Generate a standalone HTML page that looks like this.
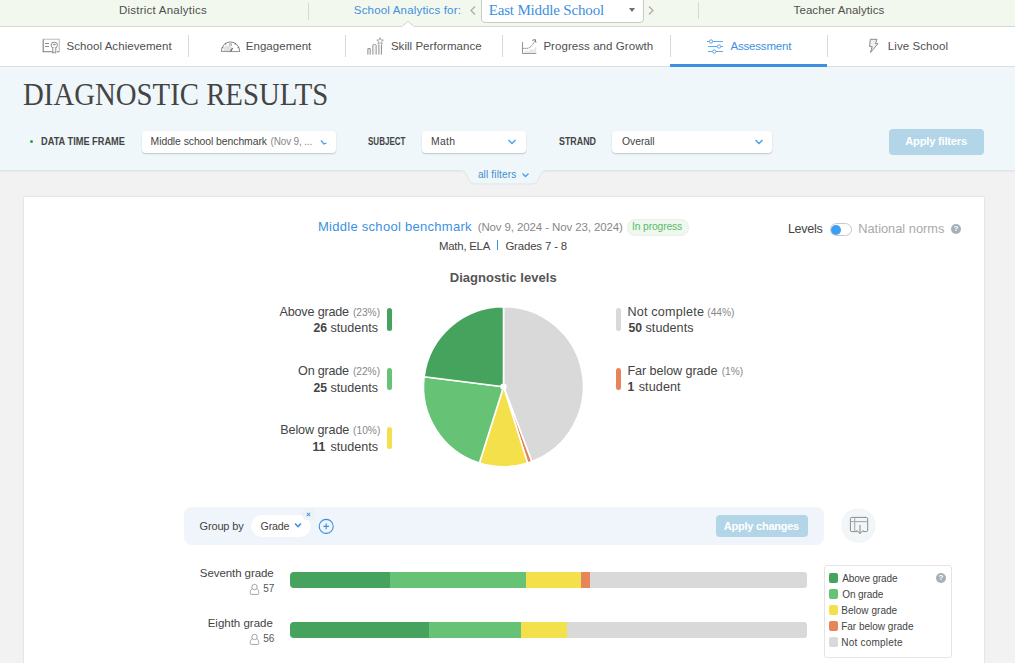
<!DOCTYPE html>
<html><head><meta charset="utf-8">
<style>
*{box-sizing:border-box;margin:0;padding:0}
html,body{width:1015px;height:663px;overflow:hidden;background:#f2f2f2;font-family:"Liberation Sans",sans-serif;color:#444}
.t{position:absolute;white-space:nowrap}
.r{position:absolute}
.vd{position:absolute;width:1px;background:#d6dad4}
.dd{position:absolute;background:#fff;border-radius:4px;box-shadow:0 1px 1.5px rgba(0,0,0,.2)}
.vb{position:absolute;width:5px;border-radius:2.5px}
.bar{position:absolute;height:16px}
.sw{position:absolute;width:9px;height:10px;border-radius:2px}
</style></head><body>
<!-- top bar -->
<div class="r" style="left:0;top:0;width:1015px;height:26px;background:#f3f8ee"></div>
<div class="r" style="left:0;top:26px;width:1015px;height:1px;background:#d6d8d6"></div>
<div class="vd" style="left:308px;top:3px;height:17px"></div>
<div class="vd" style="left:698px;top:2px;height:17px"></div>
<svg class="r" style="left:401px;top:20px" width="14" height="8"><path d="M0.5 7 L7 1.5 L13.5 7" fill="#fff" stroke="#d4d6d4" stroke-width="1"/></svg>
<svg class="r" style="left:468px;top:5px" width="10" height="11"><path d="M7 1.5 L3 5.5 L7 9.5" fill="none" stroke="#aaa" stroke-width="1.2"/></svg>
<div class="r" style="left:481px;top:-4px;width:163px;height:27px;background:#fff;border:1px solid #c8ccc6;border-radius:4px"></div>
<div class="r" style="left:629px;top:8px;width:0;height:0;border-left:3.5px solid transparent;border-right:3.5px solid transparent;border-top:4.5px solid #6f6f6f"></div>
<svg class="r" style="left:646px;top:5px" width="10" height="11"><path d="M3 1.5 L7 5.5 L3 9.5" fill="none" stroke="#aaa" stroke-width="1.2"/></svg>
<!-- nav -->
<div class="r" style="left:0;top:27px;width:1015px;height:39px;background:#fff"></div>
<div class="r" style="left:0;top:66px;width:1015px;height:1px;background:#dcdfe0"></div>
<div class="vd" style="left:188px;top:35px;height:22px"></div>
<div class="vd" style="left:345px;top:35px;height:22px"></div>
<div class="vd" style="left:502px;top:35px;height:22px"></div>
<div class="vd" style="left:670px;top:35px;height:22px"></div>
<div class="vd" style="left:827px;top:35px;height:22px"></div>
<div class="r" style="left:670px;top:64px;width:157px;height:3px;background:#3d90df"></div>
<!-- nav icons -->
<svg class="r" style="left:42px;top:38px" width="20" height="17" fill="none" stroke-width="1">
 <path d="M1.2 1.2 H17.3 V13.7" stroke="#bdbdbd" stroke-width="1.1"/>
 <path d="M1.2 1.2 V13.7 H10.5 M15 13.7 H17.3" stroke="#7d7d7d" stroke-width="1.1"/>
 <path d="M3 5.5h4M3 8.5h4" stroke="#8a8a8a"/>
 <circle cx="12.3" cy="7.2" r="3.1" fill="#fff" stroke="#8a8a8a"/>
 <path d="M11.2 6.8 a1.2 1.2 0 0 1 2.3 0 Z" fill="#999" stroke="#8a8a8a" stroke-width="0.7"/>
 <path d="M10.8 10 V15.2 L12.3 14.2 L13.8 15.2 V10" fill="#fff" stroke="#8a8a8a"/>
</svg>
<svg class="r" style="left:220px;top:40px" width="21" height="13" fill="none" stroke="#8a8a8a" stroke-width="1">
 <path d="M1.3 11.5 A9.2 9.6 0 0 1 19.7 11.5 Z" fill="#fff"/>
 <path d="M3.5 11 L10.5 11 L12 7 A8 8 0 0 0 4.5 6 Z" fill="#e2e2e2" stroke="none"/>
 <path d="M1.3 11.5 H19.7" stroke="#999" stroke-width="1.1"/>
 <path d="M10.5 11.5 L12.6 8" stroke="#666" stroke-width="1.4"/>
 <path d="M2.2 7.3l1.2 0.6M18.8 7.3l-1.2 0.6M5.2 3.2l1 1.2M15.8 3.2l-1 1.2" stroke="#777" stroke-width="1.1"/>
 <path d="M9.8 6 V3.6 A0.8 0.8 0 0 1 11.3 3.6 V6" stroke="#999" stroke-width="0.9"/>
</svg>
<svg class="r" style="left:366px;top:37px" width="19" height="19" fill="none" stroke="#8a8a8a" stroke-width="1">
 <path d="M1.9 17.6 V11.6 H4.2 V17.6"/>
 <path d="M6.8 17.6 V8 Q6.8 7.4 8.5 7.4 Q10.2 7.4 10.2 8 V17.6" fill="#efefef" stroke="#9a9a9a"/>
 <path d="M12.9 17.6 V7.5 M15.4 17.6 V7.5" />
 <path d="M14.1 0.6 L15 3 L17.5 3.1 L15.6 4.7 L16.3 7.1 L14.1 5.7 L11.9 7.1 L12.6 4.7 L10.7 3.1 L13.2 3Z" stroke-width="0.8" stroke="#999"/>
</svg>
<svg class="r" style="left:521px;top:38px" width="17" height="17" fill="none" stroke="#8a8a8a" stroke-width="1">
 <path d="M3 15 L5 12.5 L7.5 13 L10 11 L12.5 12 L15.3 7.5 V15Z" fill="#e8e8e8" stroke="none"/>
 <path d="M1.5 4.1 V15.5 H15.3" stroke="#9a9a9a" stroke-width="1.1"/>
 <path d="M1.5 10.4 H5.5 C9 10.4 11.5 7.5 14 2.5" stroke="#8a8a8a" stroke-dasharray="1.4 0.6"/>
 <path d="M11.3 2.3 L14.3 1.6 L14.9 4.6" stroke="#777"/>
</svg>
<svg class="r" style="left:706px;top:38px" width="18" height="16" fill="none" stroke="#5ba3ea" stroke-width="0.95">
 <path d="M1 3.5h16M2 8.5h15M2 13.5h15"/>
 <circle cx="5" cy="3.5" r="1.7" fill="#fff"/><circle cx="13" cy="8.5" r="1.7" fill="#fff"/><circle cx="8.3" cy="13.5" r="1.7" fill="#fff"/>
</svg>
<svg class="r" style="left:867px;top:38px" width="13" height="16" fill="none" stroke="#8a8a8a" stroke-width="1">
 <path d="M3.3 1.3 H10 L8.4 5.6 H11 L3.5 14.5 L5.2 8.6 H2.6 Z" fill="#f0f0f0"/>
</svg>
<!-- header -->
<div class="r" style="left:0;top:67px;width:1015px;height:103px;background:#eff7fa"></div>
<div class="r" style="left:0;top:170px;width:1015px;height:1px;background:#dfe5e7"></div>
<div class="r" style="left:0;top:171px;width:1015px;height:2px;background:linear-gradient(#e8e8e8,#f2f2f2)"></div>
<div class="r" style="left:30px;top:140px;width:3px;height:3px;background:#3a9e52;border-radius:50%"></div>
<div class="dd" style="left:142px;top:131px;width:194px;height:22px"></div>
<div class="dd" style="left:422px;top:131px;width:104px;height:22px"></div>
<div class="dd" style="left:612px;top:131px;width:160px;height:22px"></div>
<svg class="r" style="left:319px;top:138px" width="9" height="9"><path d="M2 2.5 L5 6 L7.5 5" fill="none" stroke="#4a9eea" stroke-width="1.3"/></svg>
<svg class="r" style="left:507px;top:138px" width="10" height="8"><path d="M1.5 2 L5 5.5 L8.5 2" fill="none" stroke="#4a9eea" stroke-width="1.4"/></svg>
<svg class="r" style="left:754px;top:138px" width="10" height="8"><path d="M1.5 2 L5 5.5 L8.5 2" fill="none" stroke="#4a9eea" stroke-width="1.4"/></svg>
<div class="r" style="left:889px;top:129px;width:95px;height:26px;background:#b3d5e8;border-radius:4px"></div>
<!-- all filters tab -->
<svg class="r" style="left:455px;top:170px" width="97" height="15"><path d="M0 1 H5 C10 1 11 3 13 8 C15 13 17 14 22 14 H75 C80 14 82 13 84 8 C86 3 87 1 92 1 H97 V0 H0Z" fill="#eff7fa"/><path d="M0 0.5 H5 C10 0.5 11 3 13 8 C15 13 17 14 22 14 H75 C80 14 82 13 84 8 C86 3 87 0.5 92 0.5 H97" fill="none" stroke="#dfe5e7" stroke-width="1"/></svg>
<svg class="r" style="left:521px;top:172px" width="9" height="7"><path d="M1.5 1.5 L4.5 4.5 L7.5 1.5" fill="none" stroke="#4a9eea" stroke-width="1.3"/></svg>
<!-- card -->
<div class="r" style="left:24px;top:197px;width:960px;height:470px;background:#fff;box-shadow:0 0 1.5px rgba(0,0,0,.18)"></div>
<div class="r" style="left:626.5px;top:218.5px;width:62.5px;height:17.5px;border-radius:8px;background:#eef8ef;border:1px solid #e9f1e9"></div>
<div class="r" style="left:497px;top:240px;width:1.2px;height:10px;background:#3d90df"></div>
<div class="r" style="left:830px;top:223px;width:22px;height:13px;border-radius:7px;border:1px solid #c8c8c8;background:#fff"></div>
<div class="r" style="left:831px;top:225px;width:10px;height:10px;border-radius:50%;background:#3ba0f5"></div>
<div class="r" style="left:951px;top:224px;width:10px;height:10px;border-radius:50%;background:#a3b1ba"></div>
<div class="r" style="left:951px;top:224px;width:10px;height:10px;font:bold 8px/10px 'Liberation Sans',sans-serif;color:#fff;text-align:center">?</div>
<!-- pie -->
<svg class="r" style="left:0;top:0" width="1015" height="663">
<g stroke="#fff" stroke-width="1.6" stroke-linejoin="round">
<path d="M503.5 386.7L503.50 306.70A80 80 0 0 1 531.79 461.53Z" fill="#d9d9d9"/>
<path d="M503.5 386.7L531.79 461.53A80 80 0 0 1 527.59 462.99Z" fill="#e8845a"/>
<path d="M503.5 386.7L527.59 462.99A80 80 0 0 1 479.41 462.99Z" fill="#f3e04b"/>
<path d="M503.5 386.7L479.41 462.99A80 80 0 0 1 424.13 376.72Z" fill="#66c275"/>
<path d="M503.5 386.7L424.13 376.72A80 80 0 0 1 503.50 306.70Z" fill="#46a35e"/>
</g>
<circle cx="503.5" cy="386.7" r="3.2" fill="#fff"/>
</svg>
<div class="vb" style="left:387px;top:308px;height:23px;background:#46a35e"></div>
<div class="vb" style="left:387px;top:368px;height:22px;background:#66c275"></div>
<div class="vb" style="left:387px;top:427px;height:22px;background:#f3e04b"></div>
<div class="vb" style="left:616px;top:308px;height:23px;background:#d9d9d9"></div>
<div class="vb" style="left:616px;top:368px;height:22px;background:#e8845a"></div>
<!-- group by -->
<div class="r" style="left:184px;top:507px;width:640px;height:38px;border-radius:8px;background:#eff5fa"></div>
<div class="r" style="left:251px;top:515px;width:60px;height:22px;border-radius:11px;background:#fff;box-shadow:0 0 1px rgba(0,0,0,.06)"></div>
<svg class="r" style="left:294px;top:522px" width="9" height="7"><path d="M1 1.5 L4 4.5 L7 1.5" fill="none" stroke="#3d90df" stroke-width="1.6"/></svg>
<div class="r" style="left:303px;top:509px;width:11px;height:11px;border-radius:50%;background:#f0f4f7;box-shadow:0 0 1px rgba(0,0,0,.15)"></div>
<svg class="r" style="left:305px;top:511px" width="7" height="7"><path d="M1.8 1.8 L5.2 5.2 M5.2 1.8 L1.8 5.2" stroke="#4d9be6" stroke-width="1.1"/></svg>
<svg class="r" style="left:318px;top:518px" width="17" height="17"><circle cx="8.2" cy="8.4" r="7" fill="none" stroke="#3d90df" stroke-width="1.1"/><path d="M8.2 5.6v5.6M5.4 8.4h5.6" stroke="#3d90df" stroke-width="1.2"/></svg>
<div class="r" style="left:716px;top:515px;width:92px;height:22px;border-radius:4px;background:#b3d5e8"></div>
<div class="r" style="left:842px;top:509px;width:33px;height:33px;border-radius:50%;background:#f1f6f8;box-shadow:0 0 1.5px rgba(0,0,0,.12)"></div>
<svg class="r" style="left:848px;top:516px" width="22" height="20" fill="none" stroke="#858585" stroke-width="0.95">
 <path d="M9.2 15.6 H3.9 A1.5 1.5 0 0 1 2.4 14.1 V2.9 A1.5 1.5 0 0 1 3.9 1.4 H18.2 A1.5 1.5 0 0 1 19.7 2.9 V14.1 A1.5 1.5 0 0 1 18.2 15.6 H15.2"/>
 <path d="M2.4 5.6 H19.7" stroke="#aaa" stroke-width="1.1"/><path d="M6.7 1.4 V15.6" stroke="#aaa" stroke-width="1.1"/>
 <path d="M12 9 V17.6 M8.6 14.2 L12 17.6 L15.4 14.2" stroke-width="1"/>
</svg>
<!-- bars -->
<svg class="r" style="left:249px;top:583px" width="11" height="12" fill="none" stroke="#9a9a9a" stroke-width="0.9"><circle cx="5.5" cy="4" r="2.7"/><path d="M3.3 5.7 C1.8 6.5 1.3 7.8 1.3 9.3 V10.5 Q1.3 11.4 2.2 11.4 H8.8 Q9.7 11.4 9.7 10.5 V9.3 C9.7 7.8 9.2 6.5 7.7 5.7"/></svg>
<svg class="r" style="left:249px;top:633px" width="11" height="12" fill="none" stroke="#9a9a9a" stroke-width="0.9"><circle cx="5.5" cy="4" r="2.7"/><path d="M3.3 5.7 C1.8 6.5 1.3 7.8 1.3 9.3 V10.5 Q1.3 11.4 2.2 11.4 H8.8 Q9.7 11.4 9.7 10.5 V9.3 C9.7 7.8 9.2 6.5 7.7 5.7"/></svg>
<div class="bar" style="left:290px;top:572px;width:100px;background:#46a35e;border-radius:4px 0 0 4px"></div>
<div class="bar" style="left:390px;top:572px;width:136px;background:#66c275"></div>
<div class="bar" style="left:526px;top:572px;width:55px;background:#f3e04b"></div>
<div class="bar" style="left:581px;top:572px;width:9px;background:#e8845a"></div>
<div class="bar" style="left:590px;top:572px;width:217px;background:#d9d9d9;border-radius:0 3px 3px 0"></div>
<div class="bar" style="left:290px;top:622px;width:139px;background:#46a35e;border-radius:4px 0 0 4px"></div>
<div class="bar" style="left:429px;top:622px;width:92px;background:#66c275"></div>
<div class="bar" style="left:521px;top:622px;width:46px;background:#f3e04b"></div>
<div class="bar" style="left:567px;top:622px;width:240px;background:#d9d9d9;border-radius:0 3px 3px 0"></div>
<!-- legend -->
<div class="r" style="left:824px;top:565px;width:128px;height:93px;border:1px solid #e4e4e4;border-radius:3px;background:#fff"></div>
<div class="sw" style="left:829px;top:573px;background:#46a35e"></div>
<div class="sw" style="left:829px;top:589px;background:#66c275"></div>
<div class="sw" style="left:829px;top:605px;background:#f3e04b"></div>
<div class="sw" style="left:829px;top:621px;background:#e8845a"></div>
<div class="sw" style="left:829px;top:637px;background:#d9d9d9"></div>
<div class="r" style="left:936px;top:573px;width:10px;height:10px;border-radius:50%;background:#a3b1ba"></div>
<div class="r" style="left:936px;top:573px;width:10px;height:10px;font:bold 8px/10px 'Liberation Sans',sans-serif;color:#fff;text-align:center">?</div>
<div class="t" style="left:119.00px;top:5px;color:#4f4f4f;font-size:11.5px;line-height:11.5px;font-weight:400;font-family:'Liberation Sans',sans-serif;letter-spacing:0.235px;">District Analytics</div>
<div class="t" style="left:353.80px;top:5px;color:#3d90df;font-size:11.5px;line-height:11.5px;font-weight:400;font-family:'Liberation Sans',sans-serif;letter-spacing:0.175px;">School Analytics for:</div>
<div class="t" style="left:793.60px;top:5px;color:#4f4f4f;font-size:11.5px;line-height:11.5px;font-weight:400;font-family:'Liberation Sans',sans-serif;letter-spacing:0.075px;">Teacher Analytics</div>
<div class="t" style="left:488.70px;top:3px;color:#3d90df;font-size:15px;line-height:15px;font-weight:400;font-family:'Liberation Serif',sans-serif;letter-spacing:-0.165px;">East Middle School</div>
<div class="t" style="left:66.50px;top:41px;color:#4f4f4f;font-size:11.5px;line-height:11.5px;font-weight:400;font-family:'Liberation Sans',sans-serif;letter-spacing:0.059px;">School Achievement</div>
<div class="t" style="left:245.80px;top:41px;color:#4f4f4f;font-size:11.5px;line-height:11.5px;font-weight:400;font-family:'Liberation Sans',sans-serif;letter-spacing:0.033px;">Engagement</div>
<div class="t" style="left:390.90px;top:41px;color:#4f4f4f;font-size:11.5px;line-height:11.5px;font-weight:400;font-family:'Liberation Sans',sans-serif;letter-spacing:0.038px;">Skill Performance</div>
<div class="t" style="left:543.40px;top:41px;color:#4f4f4f;font-size:11.5px;line-height:11.5px;font-weight:400;font-family:'Liberation Sans',sans-serif;letter-spacing:0.061px;">Progress and Growth</div>
<div class="t" style="left:730.40px;top:41px;color:#3d90df;font-size:11.5px;line-height:11.5px;font-weight:400;font-family:'Liberation Sans',sans-serif;letter-spacing:-0.167px;">Assessment</div>
<div class="t" style="left:887.80px;top:41px;color:#4f4f4f;font-size:11.5px;line-height:11.5px;font-weight:400;font-family:'Liberation Sans',sans-serif;letter-spacing:0.080px;">Live School</div>
<div class="t" style="left:22.80px;top:78px;color:#444;font-size:32.3px;line-height:32.3px;font-weight:400;font-family:'Liberation Serif',sans-serif;transform:scale(0.8915,1);transform-origin:0 27px;">DIAGNOSTIC RESULTS</div>
<div class="t" style="left:41.30px;top:137px;color:#444;font-size:10px;line-height:10px;font-weight:700;font-family:'Liberation Sans',sans-serif;transform:scale(0.9231,1);transform-origin:0 8px;">DATA TIME FRAME</div>
<div class="t" style="left:367.80px;top:137px;color:#444;font-size:10px;line-height:10px;font-weight:700;font-family:'Liberation Sans',sans-serif;transform:scale(0.8021,1);transform-origin:0 8px;">SUBJECT</div>
<div class="t" style="left:559.00px;top:137px;color:#444;font-size:10px;line-height:10px;font-weight:700;font-family:'Liberation Sans',sans-serif;transform:scale(0.8881,1);transform-origin:0 8px;">STRAND</div>
<div class="t" style="left:150.60px;top:137px;color:#444;font-size:10.4px;line-height:10.4px;font-weight:400;font-family:'Liberation Sans',sans-serif;letter-spacing:-0.064px;">Middle school benchmark</div>
<div class="t" style="left:270.50px;top:137px;color:#888;font-size:10px;line-height:10px;font-weight:400;font-family:'Liberation Sans',sans-serif;letter-spacing:-0.160px;">(Nov 9, ...</div>
<div class="t" style="left:431.00px;top:137px;color:#444;font-size:10.4px;line-height:10.4px;font-weight:400;font-family:'Liberation Sans',sans-serif;letter-spacing:0.300px;">Math</div>
<div class="t" style="left:622.10px;top:137px;color:#444;font-size:10.4px;line-height:10.4px;font-weight:400;font-family:'Liberation Sans',sans-serif;letter-spacing:-0.083px;">Overall</div>
<div class="t" style="left:905.20px;top:136px;color:#fff;font-size:11.2px;line-height:11.2px;font-weight:700;font-family:'Liberation Sans',sans-serif;letter-spacing:-0.225px;">Apply filters</div>
<div class="t" style="left:477.90px;top:170px;color:#3f8dcc;font-size:10px;line-height:10px;font-weight:400;font-family:'Liberation Sans',sans-serif;letter-spacing:0.160px;">all filters</div>
<div class="t" style="left:317.90px;top:220px;color:#3d90df;font-size:13px;line-height:13px;font-weight:400;font-family:'Liberation Sans',sans-serif;letter-spacing:0.286px;">Middle school benchmark</div>
<div class="t" style="left:477.70px;top:222px;color:#888;font-size:11.5px;line-height:11.5px;font-weight:400;font-family:'Liberation Sans',sans-serif;letter-spacing:-0.115px;">(Nov 9, 2024 - Nov 23, 2024)</div>
<div class="t" style="left:632.10px;top:222px;color:#5cba68;font-size:10.3px;line-height:10.3px;font-weight:400;font-family:'Liberation Sans',sans-serif;letter-spacing:-0.140px;">In progress</div>
<div class="t" style="left:439.00px;top:241px;color:#444;font-size:11.4px;line-height:11.4px;font-weight:400;font-family:'Liberation Sans',sans-serif;letter-spacing:-0.237px;">Math, ELA</div>
<div class="t" style="left:505.40px;top:241px;color:#444;font-size:11.4px;line-height:11.4px;font-weight:400;font-family:'Liberation Sans',sans-serif;letter-spacing:-0.136px;">Grades 7 - 8</div>
<div class="t" style="left:787.90px;top:223px;color:#444;font-size:12.5px;line-height:12.5px;font-weight:400;font-family:'Liberation Sans',sans-serif;letter-spacing:-0.260px;">Levels</div>
<div class="t" style="left:858.20px;top:223px;color:#aaa;font-size:12.8px;line-height:12.8px;font-weight:400;font-family:'Liberation Sans',sans-serif;letter-spacing:0.008px;">National norms</div>
<div class="t" style="left:449.70px;top:271px;color:#555;font-size:13px;line-height:13px;font-weight:700;font-family:'Liberation Sans',sans-serif;letter-spacing:0.050px;">Diagnostic levels</div>
<div class="t" style="left:279.50px;top:306px;color:#444;font-size:12.6px;line-height:12.6px;font-weight:400;font-family:'Liberation Sans',sans-serif;letter-spacing:-0.180px;">Above grade</div>
<div class="t" style="left:352.90px;top:308px;color:#888;font-size:10.2px;line-height:10.2px;font-weight:400;font-family:'Liberation Sans',sans-serif;">(23%)</div>
<div class="t" style="left:313.40px;top:322px;color:#444;font-size:12.2px;line-height:12.2px;font-weight:700;font-family:'Liberation Sans',sans-serif;">26</div>
<div class="t" style="left:330.60px;top:322px;color:#444;font-size:12.6px;line-height:12.6px;font-weight:400;font-family:'Liberation Sans',sans-serif;letter-spacing:-0.029px;">students</div>
<div class="t" style="left:298.10px;top:365px;color:#444;font-size:12.6px;line-height:12.6px;font-weight:400;font-family:'Liberation Sans',sans-serif;letter-spacing:-0.229px;">On grade</div>
<div class="t" style="left:352.90px;top:367px;color:#888;font-size:10.2px;line-height:10.2px;font-weight:400;font-family:'Liberation Sans',sans-serif;">(22%)</div>
<div class="t" style="left:313.40px;top:382px;color:#444;font-size:12.2px;line-height:12.2px;font-weight:700;font-family:'Liberation Sans',sans-serif;">25</div>
<div class="t" style="left:330.60px;top:382px;color:#444;font-size:12.6px;line-height:12.6px;font-weight:400;font-family:'Liberation Sans',sans-serif;letter-spacing:-0.029px;">students</div>
<div class="t" style="left:280.20px;top:424px;color:#444;font-size:12.6px;line-height:12.6px;font-weight:400;font-family:'Liberation Sans',sans-serif;letter-spacing:-0.090px;">Below grade</div>
<div class="t" style="left:353.10px;top:426px;color:#888;font-size:10.2px;line-height:10.2px;font-weight:400;font-family:'Liberation Sans',sans-serif;">(10%)</div>
<div class="t" style="left:312.50px;top:441px;color:#444;font-size:12.2px;line-height:12.2px;font-weight:700;font-family:'Liberation Sans',sans-serif;">11</div>
<div class="t" style="left:330.60px;top:441px;color:#444;font-size:12.6px;line-height:12.6px;font-weight:400;font-family:'Liberation Sans',sans-serif;letter-spacing:-0.029px;">students</div>
<div class="t" style="left:627.40px;top:306px;color:#444;font-size:12.6px;line-height:12.6px;font-weight:400;font-family:'Liberation Sans',sans-serif;letter-spacing:0.209px;">Not complete</div>
<div class="t" style="left:707.30px;top:308px;color:#888;font-size:10.2px;line-height:10.2px;font-weight:400;font-family:'Liberation Sans',sans-serif;">(44%)</div>
<div class="t" style="left:628.40px;top:322px;color:#444;font-size:12.2px;line-height:12.2px;font-weight:700;font-family:'Liberation Sans',sans-serif;">50</div>
<div class="t" style="left:645.50px;top:322px;color:#444;font-size:12.6px;line-height:12.6px;font-weight:400;font-family:'Liberation Sans',sans-serif;letter-spacing:0.057px;">students</div>
<div class="t" style="left:627.40px;top:365px;color:#444;font-size:12.6px;line-height:12.6px;font-weight:400;font-family:'Liberation Sans',sans-serif;letter-spacing:-0.064px;">Far below grade</div>
<div class="t" style="left:721.70px;top:367px;color:#888;font-size:10.2px;line-height:10.2px;font-weight:400;font-family:'Liberation Sans',sans-serif;">(1%)</div>
<div class="t" style="left:627.40px;top:381px;color:#444;font-size:12.2px;line-height:12.2px;font-weight:700;font-family:'Liberation Sans',sans-serif;">1</div>
<div class="t" style="left:638.70px;top:381px;color:#444;font-size:12.6px;line-height:12.6px;font-weight:400;font-family:'Liberation Sans',sans-serif;letter-spacing:0.100px;">student</div>
<div class="t" style="left:199.60px;top:521px;color:#444;font-size:11px;line-height:11px;font-weight:400;font-family:'Liberation Sans',sans-serif;letter-spacing:-0.171px;">Group by</div>
<div class="t" style="left:260.60px;top:521px;color:#444;font-size:10.7px;line-height:10.7px;font-weight:400;font-family:'Liberation Sans',sans-serif;letter-spacing:-0.225px;">Grade</div>
<div class="t" style="left:723.80px;top:521px;color:#fff;font-size:11px;line-height:11px;font-weight:700;font-family:'Liberation Sans',sans-serif;letter-spacing:-0.233px;">Apply changes</div>
<div class="t" style="left:199.80px;top:568px;color:#444;font-size:11.5px;line-height:11.5px;font-weight:400;font-family:'Liberation Sans',sans-serif;letter-spacing:-0.075px;">Seventh grade</div>
<div class="t" style="left:263.30px;top:584px;color:#555;font-size:10px;line-height:10px;font-weight:400;font-family:'Liberation Sans',sans-serif;">57</div>
<div class="t" style="left:207.70px;top:618px;color:#444;font-size:11.5px;line-height:11.5px;font-weight:400;font-family:'Liberation Sans',sans-serif;letter-spacing:-0.009px;">Eighth grade</div>
<div class="t" style="left:263.30px;top:634px;color:#555;font-size:10px;line-height:10px;font-weight:400;font-family:'Liberation Sans',sans-serif;">56</div>
<div class="t" style="left:842.20px;top:574px;color:#444;font-size:10px;line-height:10px;font-weight:400;font-family:'Liberation Sans',sans-serif;letter-spacing:-0.140px;">Above grade</div>
<div class="t" style="left:842.20px;top:590px;color:#444;font-size:10px;line-height:10px;font-weight:400;font-family:'Liberation Sans',sans-serif;letter-spacing:-0.071px;">On grade</div>
<div class="t" style="left:841.20px;top:606px;color:#444;font-size:10px;line-height:10px;font-weight:400;font-family:'Liberation Sans',sans-serif;letter-spacing:0.040px;">Below grade</div>
<div class="t" style="left:841.20px;top:622px;color:#444;font-size:10px;line-height:10px;font-weight:400;font-family:'Liberation Sans',sans-serif;">Far below grade</div>
<div class="t" style="left:841.20px;top:638px;color:#444;font-size:10px;line-height:10px;font-weight:400;font-family:'Liberation Sans',sans-serif;letter-spacing:0.227px;">Not complete</div>
</body></html>
